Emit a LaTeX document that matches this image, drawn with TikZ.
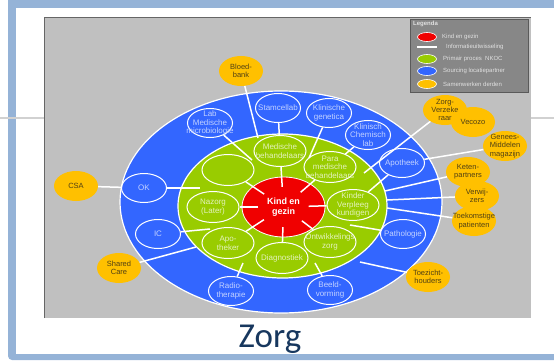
\documentclass[tikz,border=0pt]{standalone}
\usepackage{fontspec}
\setmainfont{Liberation Sans}
\newfontfamily\zorgfont{Carlito}
\usetikzlibrary{shapes.geometric}
\definecolor{framec}{RGB}{149,179,215}
\definecolor{panelc}{RGB}{192,192,192}
\definecolor{ringblue}{RGB}{51,102,255}
\definecolor{ringgreen}{RGB}{153,204,0}
\definecolor{corered}{RGB}{240,0,0}
\definecolor{yel}{RGB}{255,192,0}
\definecolor{bluetext}{RGB}{195,210,255}
\definecolor{greentext}{RGB}{228,242,190}
\definecolor{yeltext}{RGB}{80,64,20}
\definecolor{legfill}{RGB}{135,135,135}
\definecolor{legline}{RGB}{90,90,90}
\definecolor{legtext}{RGB}{225,225,225}
\definecolor{titlec}{RGB}{23,55,94}
\tikzset{
 bnode/.style={ellipse, draw=white, line width=1pt, minimum width=45pt, minimum height=29pt, inner sep=0pt, label={[bnlab]center:#1}},
 bnlab/.style={align=center, font=\fontsize{8}{8.8}\selectfont, text=bluetext, inner sep=0pt},
 gnode/.style={ellipse, draw=white, line width=1pt, minimum width=52pt, minimum height=31pt, inner sep=0pt, label={[gnlab]center:#1}},
 gnlab/.style={align=center, font=\fontsize{8}{8.6}\selectfont, text=greentext, inner sep=0pt},
 ynode/.style={ellipse, fill=yel, minimum width=44pt, minimum height=30pt, inner sep=0pt, label={[ynlab]center:#1}},
 ynlab/.style={align=center, font=\fontsize{7.5}{8.3}\selectfont, text=yeltext, inner sep=0pt},
 link/.style={draw=white, line width=1.5pt},
 legtxt/.style={anchor=west, font=\fontsize{6}{7}\selectfont, text=legtext, inner sep=0pt},
 legdot/.style={ellipse, draw=white, line width=0.6pt, minimum width=19pt, minimum height=9pt, inner sep=0pt},
}
\begin{document}
\begin{tikzpicture}[x=1pt,y=-1pt]
\useasboundingbox (0,0) rectangle (554,361);
% slide frame
\begin{scope}
\clip (0,0) rectangle (554,361);
\fill[framec, rounded corners=4pt] (8,-6) rectangle (580,360);
\fill[white] (16,8) rectangle (580,354);
\draw[black!18, line width=1.2pt] (0,118) -- (554,118);
\end{scope}
% panel
\fill[panelc] (44,17) rectangle (531,318);
\draw[black!60, line width=0.8pt] (44,318) -- (44,17) -- (531,17);
% legend
\draw[fill=legfill, draw=legline, line width=0.8pt] (410,19) rectangle (528,92);
\node[legtxt, font=\bfseries\fontsize{6}{7}\selectfont] (lg) at (413,24) {Legenda};
\node[legdot, fill=corered] (lr) at (427,37) {};
\node[legtxt] (lrt) at (442,37) {Kind en gezin};
\coordinate (lwa) at (417,47);
\coordinate (lwb) at (437,47);
\draw[white, line width=1.2pt] (lwa) -- (lwb);
\node[legtxt] (lwt) at (446,47) {Informatieuitwisseling};
\node[legdot, fill=ringgreen] (lgr) at (427,59) {};
\node[legtxt] (lgt) at (443,59) {Primair proces \ NKOC};
\node[legdot, fill=ringblue] (lbl) at (427,71) {};
\node[legtxt] (lbt) at (443,71) {Sourcing locatiepartner};
\node[legdot, fill=yel] (lye) at (427,84) {};
\node[legtxt] (lyt) at (443,84) {Samenwerken derden};
% rings
\node[ellipse, fill=ringblue, draw=white, line width=1.2pt, minimum width=322pt, minimum height=222pt, inner sep=0pt] (bluering) at (281,202) {};
\node[ellipse, fill=ringgreen, draw=white, line width=1.2pt, minimum width=209pt, minimum height=144pt, inner sep=0pt] (greenring) at (282.5,206) {};
\node[ellipse, fill=corered, draw=white, line width=0.8pt, minimum width=83pt, minimum height=60pt, inner sep=0pt, font=\bfseries\fontsize{9}{10}\selectfont, text=white, align=center] (core) at (283.5,207) {Kind en\\gezin};
\node[ellipse, minimum width=50pt, minimum height=40pt, inner sep=0pt] (corein) at (283.5,207) {};
% blue nodes
\node[bnode={Stamcellab}] (stam) at (278,108) {};
\node[bnode={Klinische\\genetica}] (klgen) at (329,113) {};
\node[bnode={Lab\\Medische\\microbiologie}] (labmm) at (210,123) {};
\node[bnode={Klinisch\\Chemisch\\lab}] (klchem) at (368,135) {};
\node[bnode={Apotheek}] (apoth) at (402,163) {};
\node[bnode={Pathologie}] (patho) at (403,234) {};
\node[bnode={OK}] (ok) at (144,188) {};
\node[bnode={IC}] (ic) at (158,234) {};
\node[bnode={Radio-\\therapie}] (radio) at (231,291) {};
\node[bnode={Beeld-\\vorming}] (beeld) at (330,290) {};
% green nodes
\node[gnode={Medische\\behandelaars}] (med) at (280,151) {};
\node[gnode={}] (empt) at (228,170) {};
\node[gnode={Para\\medische\\behandelaars}] (para) at (330,167) {};
\node[gnode={Nazorg\\(Later)}] (naz) at (213,207) {};
\node[gnode={Kinder\\Verpleeg\\kundigen}] (kvk) at (353,205) {};
\node[gnode={Apo-\\theker}] (apok) at (228,243) {};
\node[gnode={Diagnostiek}] (diag) at (282,258) {};
\node[gnode={Ontwikkelings\\zorg}] (ontw) at (330,242) {};
% yellow nodes
\node[ynode={Bloed-\\bank}] (bloed) at (241,71) {};
\node[ynode={CSA}] (csa) at (76,186) {};
\node[ynode={Shared\\Care}] (shared) at (119,268) {};
\node[ynode={Zorg-\\Verzeke\\raar}] (zorgv) at (445,110) {};
\node[ynode={Vecozo}] (vecozo) at (473,122) {};
\node[ynode={Genees-\\Middelen\\magazijn}] (genees) at (505,146) {};
\node[ynode={Keten-\\partners}] (keten) at (468,172) {};
\node[ynode={Verwij-\\zers}] (verw) at (477,196) {};
\node[ynode={Toekomstige\\patienten}] (toek) at (474,221) {};
\node[ynode={Toezicht-\\houders}] (toez) at (428,277) {};
% free ends
\coordinate (bbE) at (258,138);
\coordinate (kgE) at (309,158);
\coordinate (lmE) at (252,160);
\coordinate (zvE) at (364,173);
\coordinate (ktE) at (385,191);
\coordinate (vwE) at (387,200);
\coordinate (tkE) at (387,208);
\coordinate (ptS) at (350,225);
\coordinate (tzS) at (360,262);
\coordinate (bvS) at (315,263);
\coordinate (rtS) at (243,263);
\coordinate (shE) at (196,247);
\coordinate (icE) at (210,229);
\coordinate (okE) at (200,188);
% connectors
\draw[link] (bloed) -- (bbE);
\draw[link] (stam) -- (med);
\draw[link] (klgen) -- (kgE);
\draw[link] (labmm) -- (lmE);
\draw[link] (klchem) -- (para);
\draw[link] (zorgv) -- (zvE);
\draw[link] (genees) -- (apoth);
\draw[link] (apoth) -- (kvk);
\draw[link] (keten) -- (ktE);
\draw[link] (verw) -- (vwE);
\draw[link] (toek) -- (tkE);
\draw[link] (ptS) -- (patho);
\draw[link] (tzS) -- (toez);
\draw[link] (bvS) -- (beeld);
\draw[link] (rtS) -- (radio);
\draw[link] (shared) -- (shE);
\draw[link] (ic) -- (icE);
\draw[link] (csa) -- (ok);
\draw[link] (ok) -- (okE);
% spokes
\draw[link] (corein) -- (med);
\draw[link] (corein) -- (para);
\draw[link] (corein) -- (kvk);
\draw[link] (corein) -- (ontw);
\draw[link] (corein) -- (diag);
\draw[link] (corein) -- (apok);
\draw[link] (corein) -- (naz);
\draw[link] (corein) -- (empt);
% title
\node[font=\zorgfont\fontsize{35}{40}\selectfont, text=titlec, anchor=base, inner sep=0pt] (title) at (270,347) {Zorg};
\end{tikzpicture}
\end{document}
